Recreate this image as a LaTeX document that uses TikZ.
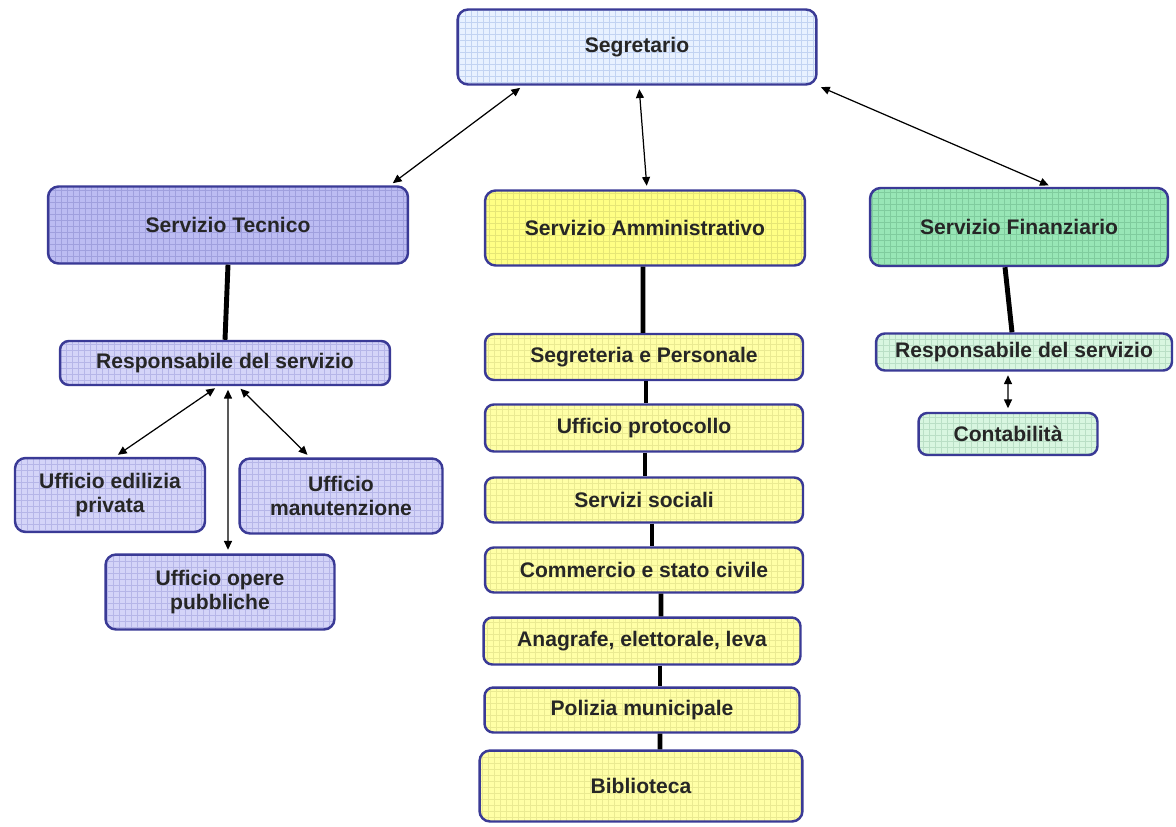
\documentclass[tikz,border=0pt]{standalone}
\usepackage{fontspec}
\setmainfont{Liberation Sans}
\usetikzlibrary{arrows.meta}
\definecolor{bordc}{HTML}{3A3A96}
\definecolor{segf}{HTML}{E8F1FF}\definecolor{segg}{HTML}{C2D3F2}
\definecolor{tecf}{HTML}{BCBCF2}\definecolor{tecg}{HTML}{A0A0DE}
\definecolor{ltecf}{HTML}{D4D4F8}\definecolor{ltecg}{HTML}{B6B6E8}
\definecolor{ammf}{HTML}{FFFF84}\definecolor{ammg}{HTML}{E6E676}
\definecolor{yelf}{HTML}{FFFFA6}\definecolor{yelg}{HTML}{EAEA92}
\definecolor{finf}{HTML}{98E6B6}\definecolor{fing}{HTML}{80CC9E}
\definecolor{lfinf}{HTML}{D8F6E0}\definecolor{lfing}{HTML}{BADFC6}
\tikzset{
  box/.style={draw=bordc, line width=1.4pt, rounded corners=6pt, inner sep=1pt,
    font=\bfseries\fontsize{12}{14}\selectfont, align=center, text=black!85},
  gridded/.style 2 args={fill=#1, path picture={\draw[#2, line width=0.35pt, step=0.12cm]
    (path picture bounding box.south west) grid (path picture bounding box.north east);}},
  thin link/.style={{Triangle[length=5pt,width=4.5pt]}-{Triangle[length=5pt,width=4.5pt]}, line width=0.7pt, shorten <=2pt, shorten >=2pt},
  thick link/.style={line width=2.8pt}
}
\begin{document}
\begin{tikzpicture}[x=0.02cm,y=-0.02cm]
\useasboundingbox[fill=white] (0,0) rectangle (1176,826);
% top
\node[box, gridded={segf}{segg}, minimum width=7.18cm, minimum height=1.5cm] (seg) at (637,47) {Segretario};
\node[box, gridded={tecf}{tecg}, minimum width=7.2cm, minimum height=1.54cm] (tec) at (228,225) {Servizio Tecnico};
\node[box, gridded={ammf}{ammg}, minimum width=6.4cm, minimum height=1.5cm] (amm) at (645,228) {Servizio Amministrativo};
\node[box, gridded={finf}{fing}, minimum width=5.96cm, minimum height=1.56cm] (fin) at (1019,227) {Servizio Finanziario};
% tecnico branch
\node[box, rounded corners=5pt, gridded={ltecf}{ltecg}, minimum width=6.6cm, minimum height=0.88cm] (rtec) at (225,363) {Responsabile del servizio};
\node[box, gridded={ltecf}{ltecg}, minimum width=3.8cm, minimum height=1.48cm] (edi) at (110,495) {Ufficio edilizia\\privata};
\node[box, gridded={ltecf}{ltecg}, minimum width=4.06cm, minimum height=1.5cm] (man) at (341,496) {Ufficio\\manutenzione};
\node[box, gridded={ltecf}{ltecg}, minimum width=4.58cm, minimum height=1.5cm] (ope) at (220,592) {Ufficio opere\\pubbliche};
% amministrativo branch
\node[box, rounded corners=5pt, gridded={yelf}{yelg}, minimum width=6.36cm, minimum height=0.92cm] (a1) at (644,357) {Segreteria e Personale};
\node[box, rounded corners=5pt, gridded={yelf}{yelg}, minimum width=6.36cm, minimum height=0.94cm] (a2) at (644,428) {Ufficio protocollo};
\node[box, rounded corners=5pt, gridded={yelf}{yelg}, minimum width=6.36cm, minimum height=0.9cm] (a3) at (644,500) {Servizi sociali};
\node[box, rounded corners=5pt, gridded={yelf}{yelg}, minimum width=6.36cm, minimum height=0.9cm] (a4) at (644,570) {Commercio e stato civile};
\node[box, rounded corners=5pt, gridded={yelf}{yelg}, minimum width=6.34cm, minimum height=0.94cm] (a5) at (642,641) {Anagrafe, elettorale, leva};
\node[box, rounded corners=5pt, gridded={yelf}{yelg}, minimum width=6.3cm, minimum height=0.9cm] (a6) at (642,710) {Polizia municipale};
\node[box, gridded={yelf}{yelg}, minimum width=6.46cm, minimum height=1.42cm] (a7) at (641,786) {Biblioteca};
% finanziario branch
\node[box, rounded corners=5pt, gridded={lfinf}{lfing}, minimum width=5.92cm, minimum height=0.74cm] (rfin) at (1024,352) {Responsabile del servizio};
\node[box, rounded corners=5pt, gridded={lfinf}{lfing}, minimum width=3.58cm, minimum height=0.84cm] (con) at (1008,434) {Contabilità};
% connectors
\draw[thin link] ([xshift=-2.28cm]seg.south) -- ([xshift=3.24cm]tec.north);
\draw[thin link] ([xshift=0.04cm]seg.south) -- ([xshift=0.04cm]amm.north);
\draw[thin link] (seg.south east) -- ([xshift=0.66cm]fin.north);
\draw[thick link] (tec.south) -- (rtec.north);
\draw[thin link] ([xshift=-0.14cm]rtec.south) -- ([xshift=0.1cm]edi.north);
\draw[thin link] ([xshift=0.06cm]rtec.south) -- ([xshift=0.16cm]ope.north);
\draw[thin link] ([xshift=0.26cm]rtec.south) -- ([xshift=-0.62cm]man.north);
\draw[thick link] ([xshift=-0.04cm]amm.south) -- ([xshift=-0.02cm]a1.north);
\draw[thick link] ([xshift=0.04cm]a1.south) -- ([xshift=0.04cm]a2.north);
\draw[thick link] ([xshift=0.02cm]a2.south) -- ([xshift=0.02cm]a3.north);
\draw[thick link] ([xshift=0.16cm]a3.south) -- ([xshift=0.16cm]a4.north);
\draw[thick link] ([xshift=0.34cm]a4.south) -- ([xshift=0.38cm]a5.north);
\draw[thick link] ([xshift=0.36cm]a5.south) -- ([xshift=0.36cm]a6.north);
\draw[thick link] ([xshift=0.36cm]a6.south) -- ([xshift=0.38cm]a7.north);
\draw[thick link] ([xshift=-0.28cm]fin.south) -- ([xshift=-0.24cm]rfin.north);
\draw[thin link] ([xshift=-0.32cm]rfin.south) -- (con.north);
\end{tikzpicture}
\end{document}
